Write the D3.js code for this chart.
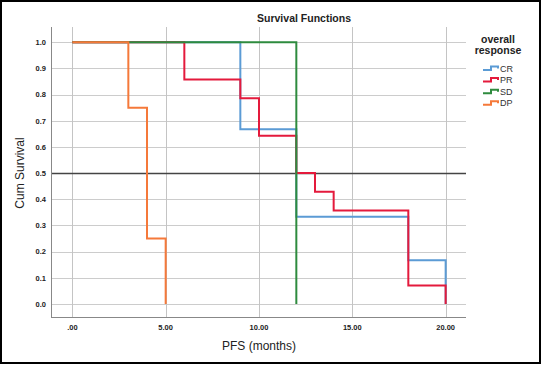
<!DOCTYPE html>
<html><head><meta charset="utf-8">
<script src="https://cdn.jsdelivr.net/npm/d3@7"></script>
<style>body{margin:0;background:#fff}svg{display:block}text{font-family:"Liberation Sans",Arial,sans-serif}</style>
</head><body><div id="chart"></div>
<script>
const series = ["CR","PR","SD","DP"];
const colors = ["#5b9bd5","#e41a3c","#2e8b3e","#f5793a"];
const crTimes = [0,9,12,18,20];
const crSurv  = [1,0.667,0.333,0.167,0];
const prTimes = [0,6,9,10,12,13,14,18,20];
const prSurv  = [1,0.857,0.786,0.643,0.5,0.429,0.357,0.071,0];
const sdTimes = [0,12];
const sdSurv  = [1,0];
const dpTimes = [0,3,4,5];
const dpSurv  = [1,0.75,0.25,0];
const xTicks = [0,5,10,15,20];
const xTickLabels = [".00","5.00","10.00","15.00","20.00"];
const yTicks = [0,0.1,0.2,0.3,0.4,0.5,0.6,0.7,0.8,0.9,1.0];
const refValue = 0.5;

const data = [
  {name:"CR", t:crTimes, s:crSurv},
  {name:"PR", t:prTimes, s:prSurv},
  {name:"SD", t:sdTimes, s:sdSurv},
  {name:"DP", t:dpTimes, s:dpSurv}
];

const W=541,H=365;
const svg=d3.select("#chart").append("svg").attr("width",W).attr("height",H);
svg.append("rect").attr("x",1).attr("y",1).attr("width",W-2).attr("height",H-3)
  .attr("fill","#fff").attr("stroke","#000").attr("stroke-width",2);

const x=d3.scaleLinear().domain([-1.09,21.09]).range([52,466]);
const y=d3.scaleLinear().domain([-0.0535,1.058]).range([318,27]);

// grid
svg.append("g").selectAll("line").data(yTicks).join("line")
  .attr("x1",52).attr("x2",466).attr("y1",d=>Math.round(y(d))+0.5).attr("y2",d=>Math.round(y(d))+0.5)
  .attr("stroke","#cccccc").attr("stroke-width",1);
svg.append("g").selectAll("line").data(xTicks).join("line")
  .attr("y1",27).attr("y2",318).attr("x1",d=>Math.round(x(d))+0.5).attr("x2",d=>Math.round(x(d))+0.5)
  .attr("stroke","#c4c4c4").attr("stroke-width",1);

// axes lines
svg.append("line").attr("x1",51.5).attr("x2",51.5).attr("y1",27).attr("y2",318).attr("stroke","#888");
svg.append("line").attr("x1",51).attr("x2",466).attr("y1",317.5).attr("y2",317.5).attr("stroke","#888");

// tick labels
svg.append("g").selectAll("text").data(yTicks).join("text")
  .attr("x",46).attr("y",d=>y(d)+2.8).attr("text-anchor","end")
  .attr("font-size","7.5px").attr("font-weight","bold").attr("fill","#222")
  .text(d=>d.toFixed(1));
svg.append("g").selectAll("text").data(xTicks).join("text")
  .attr("x",d=>x(d)).attr("y",329.5).attr("text-anchor","middle")
  .attr("font-size","7.5px").attr("font-weight","bold").attr("fill","#222")
  .text((d,i)=>xTickLabels[i]);

// reference line
svg.append("line").attr("x1",52).attr("x2",466).attr("y1",Math.round(y(refValue))+0.5).attr("y2",Math.round(y(refValue))+0.5)
  .attr("stroke","#444").attr("stroke-width",1.3);

// step lines
const line=d3.line().x(d=>x(d[0])).y(d=>y(d[1])).curve(d3.curveStepAfter);
data.forEach((sr,i)=>{
  const pts=sr.t.map((t,j)=>[t,sr.s[j]]);
  svg.append("path").attr("d",line(pts)).attr("fill","none")
    .attr("stroke",colors[i]).attr("stroke-width",2);
});

// titles
svg.append("text").attr("x",304).attr("y",22).attr("text-anchor","middle")
  .attr("font-size","10.5px").attr("font-weight","bold").attr("fill","#222").text("Survival Functions");
svg.append("text").attr("x",259).attr("y",350).attr("text-anchor","middle")
  .attr("font-size","12px").attr("fill","#222").text("PFS (months)");
svg.append("text").attr("transform","translate(24,173) rotate(-90)").attr("text-anchor","middle")
  .attr("font-size","12px").attr("fill","#222").text("Cum Survival");

// legend
svg.append("text").attr("x",498).attr("y",43).attr("text-anchor","middle")
  .attr("font-size","10.5px").attr("font-weight","bold").attr("fill","#222").text("overall");
svg.append("text").attr("x",498).attr("y",54).attr("text-anchor","middle")
  .attr("font-size","10.5px").attr("font-weight","bold").attr("fill","#222").text("response");
series.forEach((nm,i)=>{
  const cy=68+i*11.6;
  svg.append("path").attr("d",`M483,${cy+2}H491V${cy-1.5}H498V${cy+0.5}`)
    .attr("fill","none").attr("stroke",colors[i]).attr("stroke-width",2);
  svg.append("text").attr("x",500).attr("y",cy+3.5).attr("font-size","9px").attr("fill","#333").text(nm);
});
</script></body></html>
